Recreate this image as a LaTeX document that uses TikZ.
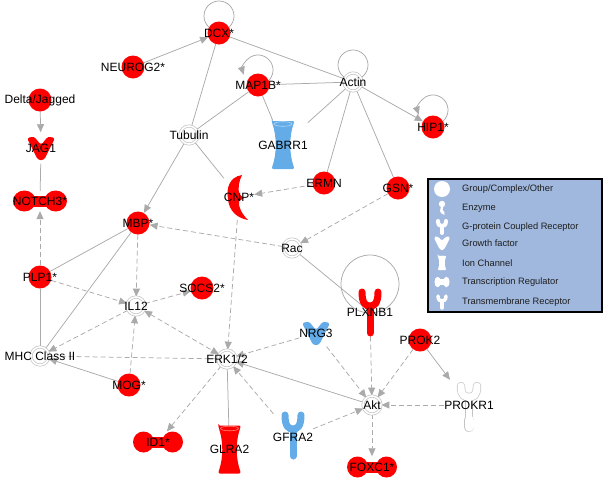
\documentclass[tikz,border=0pt]{standalone}
\usepackage{fontspec}
\setmainfont{Liberation Sans}
\usetikzlibrary{arrows.meta,backgrounds}
\definecolor{nred}{RGB}{255,0,0}
\definecolor{nblue}{RGB}{99,172,232}
\definecolor{egray}{RGB}{170,170,170}
\definecolor{rgray}{RGB}{196,196,196}
\definecolor{legbg}{RGB}{160,184,222}
\definecolor{legtext}{RGB}{30,30,30}
\tikzset{
 pics/gfac/.style={code={\fill[#1, rounded corners=2.5pt] (-14,-10) -- (-7,-11.5) -- (0,-3) -- (7,-11.5) -- (14,-10) -- (3,12) -- (-3,12) -- cycle;}},
 pics/tmr/.style={code={\draw[#1, line width=7pt, line cap=round] (-8,-20) .. controls (-8,-8) and (-4,-6) .. (0,-6) .. controls (4,-6) and (8,-8) .. (8,-20); \draw[#1, line width=7pt, line cap=round] (0,-6) -- (0,21);}},
 pics/ionch/.style={code={\fill[#1, rounded corners=2pt] (-11.5,-24) -- (11.5,-24) .. controls (6,-8) and (6,8) .. (11.5,24) -- (-11.5,24) .. controls (-6,8) and (-6,-8) .. (-11.5,-24) -- cycle; \draw[white, opacity=0.5, line width=0.6pt] (0,-21) ellipse[x radius=9, y radius=2.3];}},
 pics/treg/.style={code={\fill[#1] (-14.5,0) circle[radius=10.5] (14.5,0) circle[radius=10.5]; \fill[#1] (-14.5,-5.5) rectangle (14.5,5.5);}},
 pics/enz/.style={code={\fill[#1] (3,-22) .. controls (-10,-20) and (-13,-8) .. (-11,2) .. controls (-10,14) and (-2,21) .. (9,23) .. controls (3,17) and (-1,10) .. (0,4) -- (5,1) -- (0,-3) .. controls (-1,-10) and (0,-16) .. (3,-22) -- cycle;}},
 pics/gpcr/.style={code={
   \draw[rgray, line width=8.4pt, line cap=round] (-8,-19) .. controls (-8,-9) and (-4,-8) .. (0,-8) .. controls (4,-8) and (8,-9) .. (8,-19);
   \draw[rgray, line width=7.4pt] (0,-8) -- (0,14);
   \draw[rgray, line width=10.4pt, line cap=round] (0,15) -- (0,22);
   \draw[white, line width=7pt, line cap=round] (-8,-19) .. controls (-8,-9) and (-4,-8) .. (0,-8) .. controls (4,-8) and (8,-9) .. (8,-19);
   \draw[white, line width=6pt] (0,-8) -- (0,14);
   \draw[white, line width=9pt, line cap=round] (0,15) -- (0,22);}},
}
\begin{document}
\begin{tikzpicture}[x=1pt,y=-1pt, font=\fontsize{12}{14}\selectfont,
  redc/.style={circle, fill=nred, minimum size=23pt, inner sep=0pt},
  grp/.style={circle, draw=rgray, double=white, double distance=1.6pt, line width=0.7pt, fill=white, minimum size=18pt, inner sep=0pt},
  lbl/.style={inner sep=0pt, text=black},
  hold/.style={draw=none, inner sep=0pt, text=black},
  ln/.style={draw=egray, line width=0.75pt},
  tip/.style={-{Triangle[length=8pt,width=7pt]}},
  arr/.style={ln, tip},
  dsh/.style={ln, dash pattern=on 5pt off 3pt},
  darr/.style={dsh, tip},
  legtxt/.style={anchor=west, inner sep=0pt, text=legtext, font=\fontsize{9.3}{11}\selectfont}
]
\useasboundingbox (0,0) rectangle (605,480);

% shapes
\pic at (41,148) {gfac=nred};
\pic at (316,333) {gfac=nblue};
\pic at (283,145) {ionch=nblue};
\pic at (229.5,449.5) {ionch=nred};
\pic at (239,197) {enz=nred};
\pic[xscale=1.08] at (40,201) {treg=nred};
\pic at (158,442) {treg=nred};
\pic at (372,467) {treg=nred};
\pic at (370,312) {tmr=nred};
\pic at (293,435) {tmr=nblue};
\pic at (469,405) {gpcr};

% nodes
\node[redc, label={[lbl]center:DCX*}] (dcx) at (219,33) {};
\node[redc, label={[lbl]center:NEUROG2*}] (neurog2) at (133,67) {};
\node[redc, label={[lbl]center:MAP1B*}] (map1b) at (258,85) {};
\node[grp, label={[lbl]center:Actin}] (actin) at (353,82) {};
\node[redc, label={[lbl]center:HIP1*}] (hip1) at (433,127) {};
\node[redc, label={[lbl]center:Delta/Jagged}] (delta) at (40,100) {};
\node[hold, circle, minimum size=24pt] (jag1) at (41,148) {JAG1};
\node[grp, label={[lbl]center:Tubulin}] (tub) at (189,135) {};
\node[hold, minimum width=23pt, minimum height=49pt] (gabrr1) at (283,145) {GABRR1};
\node[redc, label={[lbl]center:ERMN}] (ermn) at (324,183) {};
\node[redc, label={[lbl]center:GSN*}] (gsn) at (398,188) {};
\node[hold, minimum width=22pt, minimum height=46pt] (cnp) at (239,197) {CNP*};
\node[hold, minimum width=54pt, minimum height=20pt] (notch3) at (40,201) {NOTCH3*};
\node[redc, label={[lbl]center:MBP*}] (mbp) at (138,223) {};
\node[grp, label={[lbl]center:Rac}] (rac) at (292,248) {};
\node[hold, minimum width=22pt, minimum height=49pt] (plxnb1) at (370,312) {PLXNB1};
\node[redc, label={[lbl]center:PLP1*}] (plp1) at (40,277) {};
\node[redc, label={[lbl]center:SOCS2*}] (socs2) at (202,288) {};
\node[grp, label={[lbl]center:IL12}] (il12) at (136,306) {};
\node[hold, circle, minimum size=24pt] (nrg3) at (316,333) {NRG3};
\node[redc, label={[lbl]center:PROK2}] (prok2) at (420,340) {};
\node[grp, label={[lbl]center:MHC Class II}] (mhc) at (40,356) {};
\node[grp, label={[lbl]center:ERK1/2}] (erk) at (227,359) {};
\node[redc, label={[lbl]center:MOG*}] (mog) at (129,385) {};
\node[grp, label={[lbl]center:Akt}] (akt) at (372,405) {};
\node[hold, minimum width=26pt, minimum height=50pt] (prokr1) at (469,405) {PROKR1};
\node[hold, minimum width=22pt, minimum height=46pt] (gfra2) at (293,437) {GFRA2};
\node[hold, minimum width=50pt, minimum height=21pt] (id1) at (158,442) {ID1*};
\node[hold, minimum width=23pt, minimum height=47pt] (glra2) at (229.5,449.5) {GLRA2};
\node[hold, minimum width=50pt, minimum height=21pt] (foxc1) at (372,467) {FOXC1*};

\begin{scope}[on background layer]
% self loops
\draw[ln] ([yshift=17pt]dcx.center) circle[radius=15];
\draw[ln] ([yshift=17pt]actin.center) circle[radius=15];
\draw[ln] ([yshift=28pt]plxnb1.center) circle[radius=29];
\draw[arr] ([yshift=15pt]map1b.center) ++(60:15) arc[start angle=60, end angle=-198, radius=15];
\draw[arr] ([yshift=17pt]hip1.center) ++(60:15) arc[start angle=60, end angle=-198, radius=15];
% solid lines
\draw[ln] (dcx) -- (tub);
\draw[ln] (dcx) -- (actin);
\draw[ln] (map1b) -- (tub);
\draw[ln] (map1b) -- (gabrr1);
\draw[ln] (map1b) -- (actin);
\draw[ln] (actin) -- (gabrr1);
\draw[ln] (actin) -- (ermn);
\draw[ln] (actin) -- (gsn);
\draw[ln] (tub) -- (cnp);
\draw[ln] (jag1) -- (notch3);
\draw[ln] (mbp) -- (plp1);
\draw[ln] (mbp) -- (mhc);
\draw[ln] (plp1) -- (mhc);
\draw[ln] (rac) -- (plxnb1.center);
\draw[ln] (erk) -- (glra2);
% solid arrows
\draw[arr] (neurog2) -- (dcx);
\draw[arr] (actin) -- (hip1);
\draw[arr] (delta) -- (jag1);
\draw[arr] (tub) -- (mbp);
\draw[arr] (mog) -- (mhc);
\draw[arr] (prok2) -- (prokr1);
\draw[arr] (akt) -- (erk);
% dashed arrows
\draw[darr] (ermn) -- (cnp);
\draw[darr] (gsn) -- (rac);
\draw[darr] (rac) -- (mbp);
\draw[darr] (cnp) -- (erk);
\draw[darr] (mbp) -- (il12);
\draw[darr] (plp1) -- (notch3);
\draw[darr] (plp1) -- (il12);
\draw[darr] (il12) -- (socs2);
\draw[dsh, {Triangle[length=8pt,width=7pt]}-{Triangle[length=8pt,width=7pt]}] (il12) -- (erk);
\draw[darr] (il12) -- (mhc);
\draw[darr] (mog) -- (il12);
\draw[darr] (erk) -- (id1);
\draw[darr] (nrg3) -- (erk);
\draw[darr] (nrg3) -- (akt);
\draw[darr] (plxnb1) -- (akt);
\draw[darr] (prok2) -- (akt);
\draw[darr] (prokr1) -- (akt);
\draw[darr] (gfra2) -- (akt);
\draw[darr] (gfra2) -- (erk);
\draw[darr] (akt) -- (foxc1);
\draw[dsh] (erk) -- (mhc);
\end{scope}

% legend
\draw[line width=2pt, fill=legbg] (427.5,178.5) rectangle (601.5,311.5);
\fill[white] (442,189) circle[radius=8];
\begin{scope}[shift={(442,208)}]
\fill[white] (0,-4) circle[radius=3.2];
\fill[white] (-1.2,-1) -- (1.2,-1) -- (0.6,2) .. controls (2.5,3) and (3,5) .. (2.5,7) .. controls (0,6) and (-2,5) .. (-2,3) -- cycle;
\end{scope}
\begin{scope}[shift={(442,227)}]
\draw[white, line width=4pt, line cap=round] (-4,-6) .. controls (-4,-2) and (-2,-1) .. (0,-1) .. controls (2,-1) and (4,-2) .. (4,-6);
\draw[white, line width=4pt, line cap=round] (0,-1) -- (0,6);
\end{scope}
\pic[scale=0.6] at (442,243) {gfac=white};
\pic[xscale=0.4, yscale=0.3] at (442,263) {ionch=white};
\pic[xscale=0.3, yscale=0.5] at (442,282) {treg=white};
\begin{scope}[shift={(442,302)}]
\draw[white, line width=3.5pt, line cap=round] (-4,-6) .. controls (-4,-2) and (-2,-1) .. (0,-1) .. controls (2,-1) and (4,-2) .. (4,-6);
\draw[white, line width=3.5pt, line cap=round] (0,-1) -- (0,6);
\end{scope}
\node[legtxt] (lg1) at (462,189) {Group/Complex/Other};
\node[legtxt] (lg2) at (462,208) {Enzyme};
\node[legtxt] (lg3) at (462,227) {G-protein Coupled Receptor};
\node[legtxt] (lg4) at (462,243) {Growth factor};
\node[legtxt] (lg5) at (462,263) {Ion Channel};
\node[legtxt] (lg6) at (462,282) {Transcription Regulator};
\node[legtxt] (lg7) at (462,302) {Transmembrane Receptor};
\end{tikzpicture}
\end{document}
